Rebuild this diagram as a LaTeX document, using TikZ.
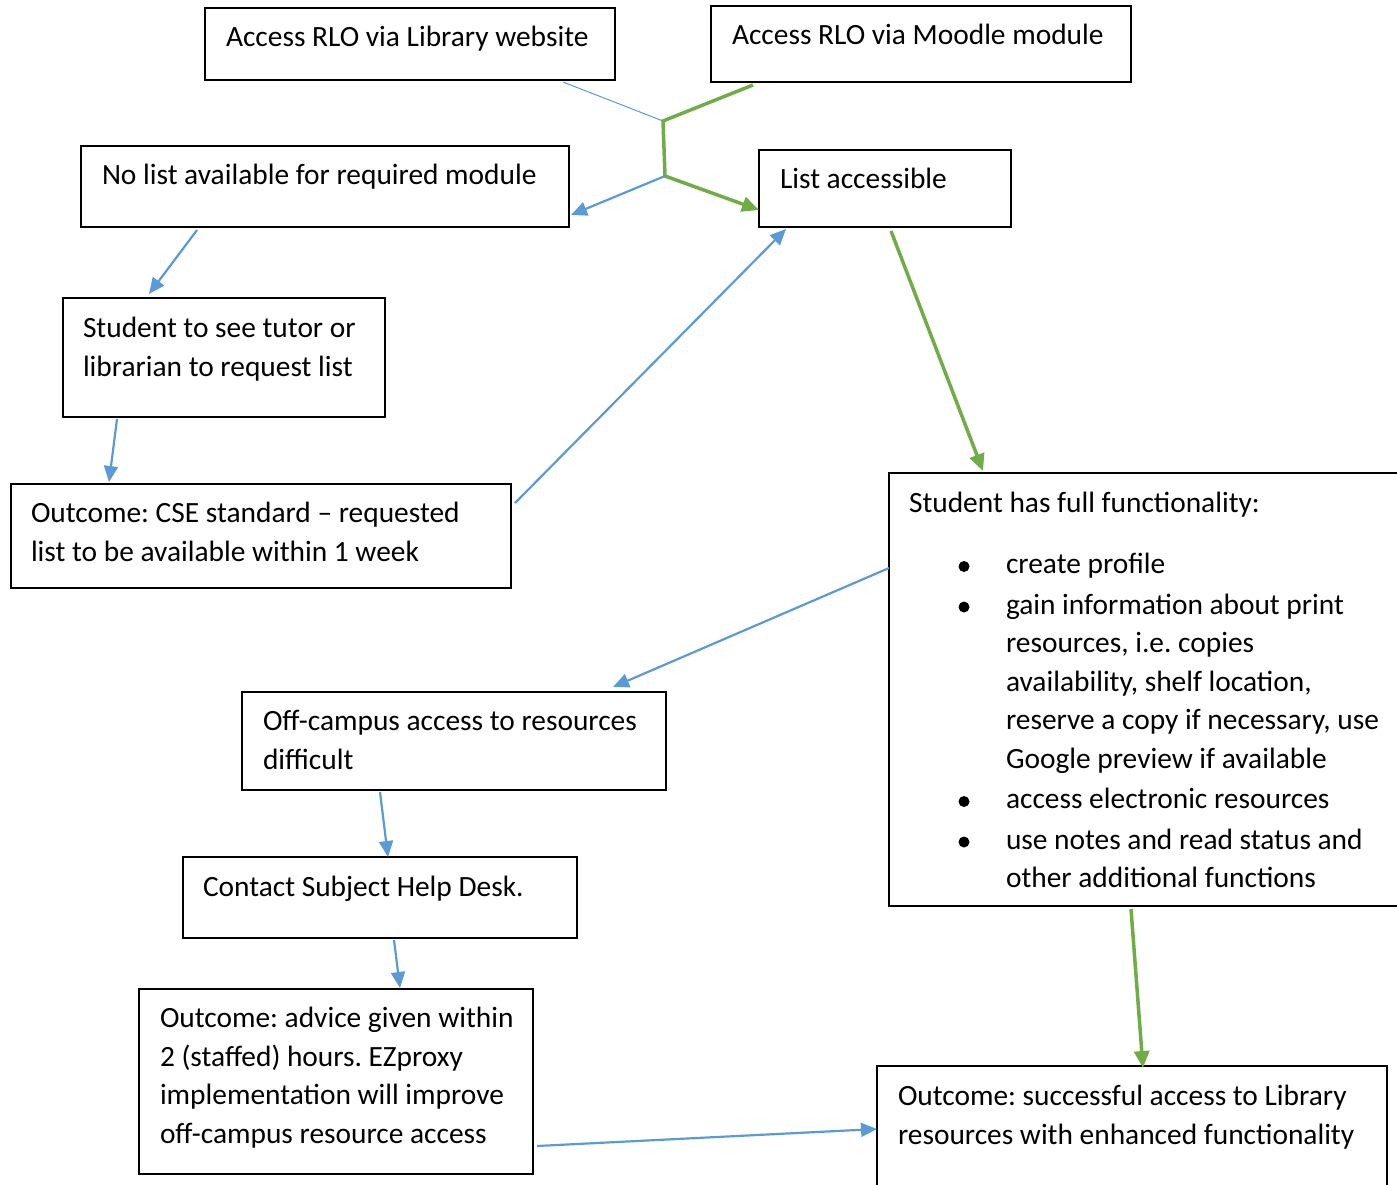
\documentclass[tikz,border=0pt]{standalone}
\usepackage{fontspec}
\setmainfont{Carlito}
\usetikzlibrary{arrows.meta}
\definecolor{lblue}{HTML}{5B9BD5}
\definecolor{lgreen}{HTML}{70AD47}
\frenchspacing
\begin{document}
\begin{tikzpicture}[x=1pt,y=-1pt,
  box/.style={draw=black, line width=2pt, anchor=north west, inner sep=0pt, outer sep=0pt},
  txt/.style={anchor=base west, inner sep=0pt, outer sep=0pt, font=\fontsize{29.4pt}{38.5pt}\selectfont\frenchspacing},
  bluearrow/.style={draw=lblue, line width=2.2pt, -{Triangle[length=16pt,width=14pt]}},
  greenarrow/.style={draw=lgreen, line width=3.5pt, line join=miter, -{Triangle[length=17pt,width=15pt]}},
  thinblue/.style={draw=lblue, line width=1pt}
]
\path[use as bounding box] (0,0) rectangle (1397,1184);
\clip (0,0) rectangle (1397,1184);

% boxes
\node[box, minimum width=410pt, minimum height=72pt]  (lib)  at (205,8) {};
\node[box, minimum width=420pt, minimum height=76pt]  (mood) at (711,6) {};
\node[box, minimum width=488pt, minimum height=81pt]  (nolist) at (81,146) {};
\node[box, minimum width=252pt, minimum height=77pt]  (listacc) at (759,150) {};
\node[box, minimum width=322pt, minimum height=119pt] (tutor) at (63,298) {};
\node[box, minimum width=500pt, minimum height=104pt] (cse) at (11,484) {};
\node[box, minimum width=530pt, minimum height=433pt] (full) at (889,473) {};
\node[box, minimum width=424pt, minimum height=98pt]  (off) at (242,692) {};
\node[box, minimum width=394pt, minimum height=81pt]  (help) at (183,857) {};
\node[box, minimum width=394pt, minimum height=185pt] (advice) at (139,989) {};
\node[box, minimum width=510pt, minimum height=140pt] (succ) at (877,1066) {};

% texts
\node[txt] (libt) at (226,46.5) {Access RLO via Library website};
\node[txt] (moodt) at (732,44.5) {Access RLO via Moodle module};
\node[txt] (nolistt) at (102,184.5) {No list available for required module};
\node[txt] (listacct) at (780,188.5) {List accessible};
\node[txt] (tutort) at (83,337.5) {\parbox[t]{600pt}{Student to see tutor or\\librarian to request list}};
\node[txt] (cset) at (31,522.5) {\parbox[t]{600pt}{Outcome: CSE standard -- requested\\list to be available within 1 week}};
\node[txt] (fullt) at (909,512.5) {Student has full functionality:};
\node[txt] (fulll) at (1006,573.5) {\parbox[t]{600pt}{create profile\\[2pt]
gain information about print\\
resources, i.e. copies\\
availability, shelf location,\\
reserve a copy if necessary, use\\
Google preview if available\\[2pt]
access electronic resources\\[2pt]
use notes and read status and\\
other additional functions}};
\fill (964,566.5) circle (5.5pt);
\fill (964,607) circle (5.5pt);
\fill (964,801.5) circle (5.5pt);
\fill (964,842) circle (5.5pt);
\node[txt] (offt) at (263,730.5) {\parbox[t]{600pt}{Off-campus access to resources\\difficult}};
\node[txt] (helpt) at (203,896.5) {Contact Subject Help Desk.};
\node[txt] (advicet) at (160,1027.5) {\parbox[t]{600pt}{Outcome: advice given within\\2 (staffed) hours. EZproxy\\implementation will improve\\off-campus resource access}};
\node[txt] (succt) at (898,1105.5) {\parbox[t]{600pt}{Outcome: successful access to Library\\resources with enhanced functionality}};

% junctions
\coordinate (J) at (663,121);
\coordinate (K) at (665,176);

% connectors
\draw[thinblue] ([xshift=358pt,yshift=-2pt]lib.south west) -- (J);
\draw[greenarrow] ([xshift=42pt,yshift=-3pt]mood.south west) -- (J) -- (K) -- ([yshift=-60pt]listacc.north west);
\draw[bluearrow] (K) -- ([xshift=2pt,yshift=-69pt]nolist.north east);
\draw[bluearrow] ([xshift=116pt,yshift=-3pt]nolist.south west) -- ([xshift=86pt,yshift=4pt]tutor.north west);
\draw[bluearrow] ([xshift=54pt,yshift=-2pt]tutor.south west) -- ([xshift=98pt,yshift=2pt]cse.north west);
\draw[bluearrow] ([xshift=4pt,yshift=-19pt]cse.north east) -- ([xshift=27pt,yshift=-2pt]listacc.south west);
\draw[greenarrow] ([xshift=132pt,yshift=-4pt]listacc.south west) -- ([xshift=94pt,yshift=2pt]full.north west);
\draw[bluearrow] ([yshift=-95pt]full.north west) -- ([xshift=371pt,yshift=5pt]off.north west);
\draw[bluearrow] ([xshift=138pt,yshift=-2pt]off.south west) -- ([xshift=205pt]help.north west);
\draw[bluearrow] ([xshift=211pt,yshift=-2pt]help.south west) -- ([xshift=261pt,yshift=1pt]advice.north west);
\draw[greenarrow] ([xshift=242pt,yshift=-3pt]full.south west) -- ([xshift=266pt,yshift=-2pt]succ.north west);
\draw[bluearrow] ([xshift=4pt,yshift=-157pt]advice.north east) -- ([yshift=-63pt]succ.north west);
\end{tikzpicture}
\end{document}
